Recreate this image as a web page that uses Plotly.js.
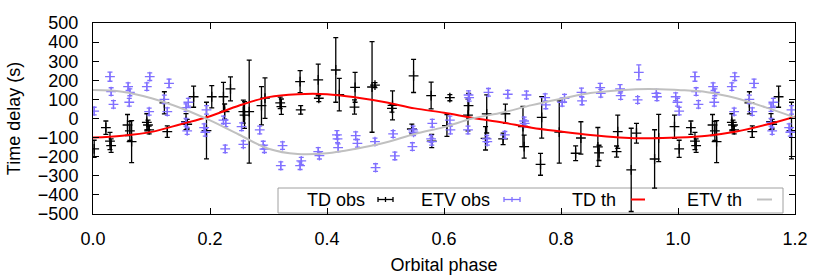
<!DOCTYPE html>
<html>
<head>
<meta charset="utf-8">
<script src="https://cdn.plot.ly/plotly-3.0.1.min.js"></script>
<style>html,body{margin:0;padding:0;background:#fff;}#chart{width:830px;height:277px;}</style>
</head>
<body>
<div id="chart"></div>
<script>
// ---- TD observations (phase, value, error) over one period ----
const tdPhase = [0.002,0.022,0.029,0.031,0.059,0.063,0.066,0.092,0.094,0.096,0.122,0.127,0.159,0.161,0.172,
  0.194,0.203,0.223,0.225,0.235,0.257,0.259,0.267,0.288,0.294,0.320,0.322,0.354,0.355,0.385,0.386,
  0.415,0.421,0.448,0.447,0.477,0.482,0.512,0.511,0.548,0.545,0.578,0.579,
  0.610,0.605,0.642,0.641,0.673,0.671,0.705,0.701,0.735,0.737,0.767,0.765,
  0.797,0.825,0.834,0.863,0.865,0.895,0.897,0.920,0.929,0.960,0.967,0.994];
const tdValue = [-159,-48,-118,-142,-34,-65,-121,-20,-34,-60,82,-69,-16,-30,114,
  -63,114,114,36,155,36,18,36,67,107,82,62,193,45,202,106,
  254,125,163,60,165,175,69,53,223,-55,120,-118,
  109,-37,67,18,24,-104,25,-107,-42,-147,6,-240,
  -71,-182,-102,-149,-180,-173,-69,-269,-77,-212,-102,-43];
const tdError = [45,35,45,35,55,50,110,45,25,20,58,30,42,25,55,
  148,58,75,40,63,60,70,270,100,106,30,40,58,22,83,18,
  169,85,78,37,237,13,76,20,87,26,70,35,
  16,57,65,83,100,61,50,30,105,60,109,57,
  163,39,85,102,40,29,87,218,52,153,124,61];

// ---- ETV observations ----
const etvPhase = [0.002,0.029,0.031,0.035,0.060,0.063,0.062,0.092,0.097,0.096,0.122,0.130,0.127,0.159,0.163,0.159,0.161,
  0.194,0.190,0.192,0.223,0.227,0.226,0.254,0.257,0.285,0.291,0.293,0.321,0.324,0.354,0.356,0.385,0.387,
  0.417,0.418,0.419,0.449,0.452,0.482,0.483,0.513,0.516,0.547,0.548,0.546,0.580,0.578,0.579,
  0.610,0.611,0.642,0.643,0.641,0.676,0.673,0.674,0.709,0.704,0.741,0.737,0.738,0.773,0.774,
  0.802,0.806,0.835,0.836,0.867,0.868,0.901,0.902,0.933,0.931,0.963,0.964,0.996,0.999];
const etvValue = [39,219,141,74,167,137,85,167,219,36,100,184,36,57,85,-20,-65,
  45,-48,-72,-8,-25,-159,-43,-135,-60,-139,-160,-247,-142,-247,-222,-173,-194,
  -86,-107,-153,-90,-130,-121,-257,-81,-196,-60,-72,-147,-25,-107,-121,
  -8,-60,123,109,-60,137,-107,-121,127,-86,123,-13,-25,109,71,
  85,106,137,92,162,132,155,120,242,97,132,114,114,85];
const etvError = [20,24,20,20,20,18,20,20,20,18,22,22,20,20,20,20,18,
  22,20,20,20,18,20,20,18,20,20,18,20,20,20,18,20,18,
  22,20,20,20,20,18,20,18,20,20,18,20,20,18,18,
  20,20,22,18,20,20,18,18,20,18,20,20,18,20,20,
  20,20,22,20,22,20,22,20,39,18,20,20,20,20];

// ---- theoretical curves ----
const thPhase = [0,0.05,0.1,0.15,0.2,0.25,0.3,0.35,0.4,0.45,0.5,0.55,0.6,0.65,0.7,0.75,0.8,0.85,0.9,0.95,1.0,1.05,1.1,1.15,1.2];
const tdTheory = [-100,-90,-70,-30,12,68,112,127,127,110,85,53,30,3,-21,-48,-68,-86,-99,-104,-100,-90,-68,-33,10];
const etvTheory = [149,140,106,55,-10,-85,-158,-186,-182,-158,-126,-81,-45,1,31,70,103,133,148,155,149,138,106,58,5];

// phase-folded data are shown again for phase + 1 up to 1.2
function fold(ph, v, e) {
  const X = [], Y = [], E = [];
  for (let i = 0; i < ph.length; i++) {
    X.push(ph[i]); Y.push(v[i]); E.push(e[i]);
    if (ph[i] < 0.2) { X.push(ph[i] + 1); Y.push(v[i]); E.push(e[i]); }
  }
  return {X, Y, E};
}
const td = fold(tdPhase, tdValue, tdError);
const etv = fold(etvPhase, etvValue, etvError);

const PURPLE = '#8070ff';
const FONT = 'Liberation Sans, Arial, Helvetica, sans-serif';

const traces = [
  {x: td.X, y: td.Y, type: 'scatter', mode: 'markers', name: 'TD obs',
   marker: {symbol: 'cross-thin-open', size: 7, color: '#000', line: {color: '#000', width: 1.3}},
   error_y: {type: 'data', array: td.E, visible: true, color: '#000', thickness: 1.3, width: 2.5}},
  {x: etv.X, y: etv.Y, type: 'scatter', mode: 'markers', name: 'ETV obs',
   marker: {symbol: 'cross-thin-open', size: 7, color: PURPLE, line: {color: PURPLE, width: 1.3}},
   error_y: {type: 'data', array: etv.E, visible: true, color: PURPLE, thickness: 1.3, width: 2.5}},
  {x: thPhase, y: tdTheory, type: 'scatter', mode: 'lines', name: 'TD th',
   line: {color: '#ff0000', width: 2, shape: 'spline', smoothing: 1}},
  {x: thPhase, y: etvTheory, type: 'scatter', mode: 'lines', name: 'ETV th',
   line: {color: '#c0c0c0', width: 2, shape: 'spline', smoothing: 1}}
];

// custom gnuplot-like key: text then sample
const L = 93, R = 795, T = 23, B = 214;
const px = v => (v - L) / (R - L);
const py = v => (B - v) / (B - T);
const keyY = 199.5;
const keyItems = [
  {text: 'TD obs', tx: 367, s0: 378, s1: 393, color: '#000', err: true},
  {text: 'ETV obs', tx: 492, s0: 504, s1: 520, color: PURPLE, err: true},
  {text: 'TD th', tx: 618, s0: 631, s1: 645, color: '#ff0000', err: false},
  {text: 'ETV th', tx: 744, s0: 757, s1: 772, color: '#c0c0c0', err: false}
];
const shapes = [{type: 'rect', xref: 'paper', yref: 'paper', x0: px(278), x1: px(783), y0: py(213), y1: py(188),
  line: {color: '#a0a0a0', width: 1}, fillcolor: '#fff', layer: 'below'}];
const annotations = [];
keyItems.forEach(k => {
  annotations.push({xref: 'paper', yref: 'paper', x: px(k.tx), y: py(keyY), xanchor: 'right', yanchor: 'middle',
    text: k.text, showarrow: false, font: {family: FONT, size: 18, color: '#000'}});
  shapes.push({type: 'line', xref: 'paper', yref: 'paper', x0: px(k.s0), x1: px(k.s1), y0: py(keyY), y1: py(keyY),
    line: {color: k.color, width: k.err ? 1.3 : 2}});
  if (k.err) {
    [k.s0, (k.s0 + k.s1) / 2, k.s1].forEach(s => shapes.push({type: 'line', xref: 'paper', yref: 'paper', x0: px(s), x1: px(s),
      y0: py(keyY - 2.5), y1: py(keyY + 2.5), line: {color: k.color, width: 1.3}}));
  }
});

const axisCommon = {ticks: 'inside', ticklen: 6, tickwidth: 1, tickcolor: '#000', showline: true, linecolor: '#000',
  linewidth: 1, mirror: 'ticks', showgrid: false, zeroline: false, tickfont: {family: FONT, size: 18, color: '#000'}};

const layout = {
  width: 830, height: 277,
  margin: {l: L, r: 830 - R, t: T, b: 277 - B},
  paper_bgcolor: '#fff', plot_bgcolor: '#fff',
  showlegend: false,
  font: {family: FONT, size: 18, color: '#000'},
  xaxis: Object.assign({}, axisCommon, {range: [0, 1.2], tick0: 0, dtick: 0.2, tickformat: '.1f',
    ticklabelstandoff: 8, title: {text: 'Orbital phase', font: {family: FONT, size: 18}, standoff: 10}}),
  yaxis: Object.assign({}, axisCommon, {range: [-500, 500], tick0: -500, dtick: 100,
    ticklabelstandoff: 10, title: {text: 'Time delay (s)', font: {family: FONT, size: 18}, standoff: 12}}),
  shapes: shapes,
  annotations: annotations
};

Plotly.newPlot('chart', traces, layout, {staticPlot: true, displayModeBar: false});
</script>
</body>
</html>
